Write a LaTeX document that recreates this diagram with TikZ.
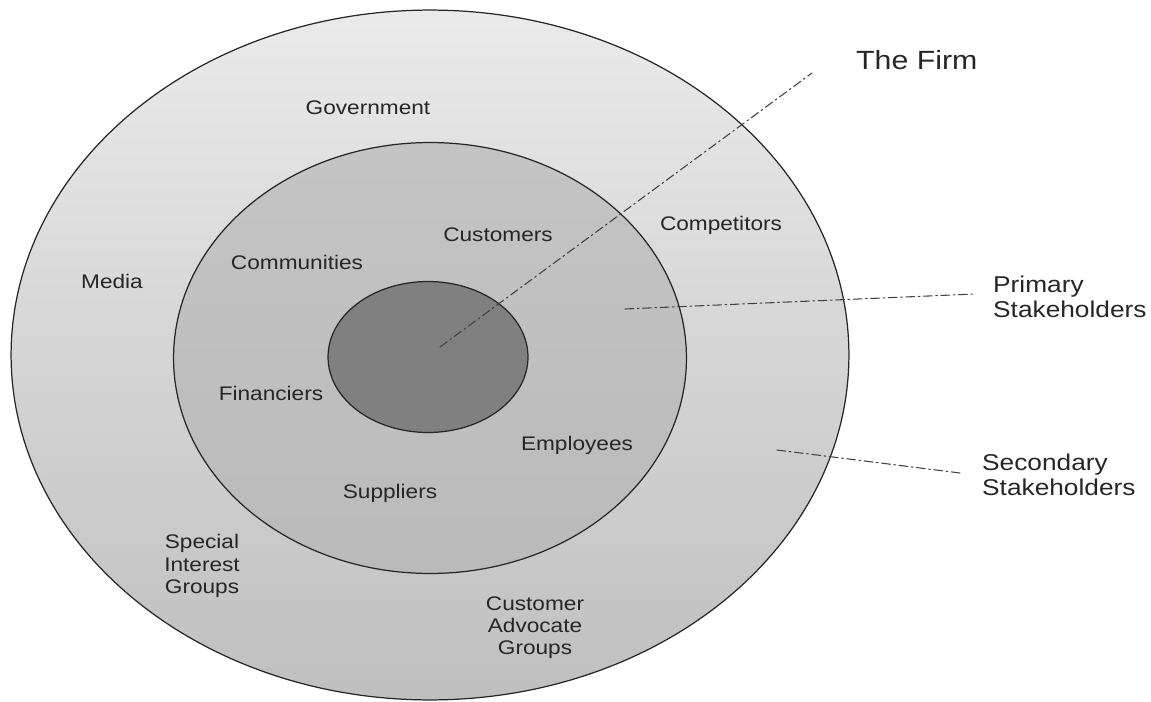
\documentclass[tikz,border=0pt]{standalone}
\usepackage{fontspec}
\setmainfont{Liberation Sans}[FakeStretch=1.15]
\usetikzlibrary{shapes.geometric}

\begin{document}
\begin{tikzpicture}[x=0.02cm,y=-0.02cm,line cap=round,line join=round,
  ring/.style={ellipse,draw=black!85,line width=0.7pt,inner sep=0pt},
  group/.style={font=\fontsize{11.2}{12.6}\selectfont,text=black!85,align=center},
  side/.style={font=\fontsize{13}{14.6}\selectfont,text=black!85,align=left,anchor=west},
  leader/.style={draw=black!75,line width=0.6pt,dash pattern=on 5pt off 2pt on 1pt off 2pt}]

  \useasboundingbox (0,0) rectangle (1151,702);

  %-------------------------
  % Anillos
  %-------------------------
  \node[ring,minimum width=16.76cm,minimum height=13.8cm,
        top color=black!8,bottom color=black!25] (outer) at (430,355) {};
  \node[ring,minimum width=10.26cm,minimum height=8.62cm,
        top color=black!23,bottom color=black!27] (middle) at (430,358) {};
  \node[ring,minimum width=4cm,minimum height=3.02cm,
        fill=black!50] (core) at (428,357) {};

  %-------------------------
  % Grupos secundarios
  %-------------------------
  \node[group] (government)  at (368,108) {Government};
  \node[group] (media)       at (112,281) {Media};
  \node[group] (competitors) at (721,225) {Competitors};
  \node[group] (special)     at (202,566) {Special\\Interest\\Groups};
  \node[group] (advocates)   at (535,628) {Customer\\Advocate\\Groups};

  %-------------------------
  % Grupos primarios
  %-------------------------
  \node[group] (customers)   at (498,235) {Customers};
  \node[group] (communities) at (297,262) {Communities};
  \node[group] (financiers)  at (271,393) {Financiers};
  \node[group] (employees)   at (577,445) {Employees};
  \node[group] (suppliers)   at (390,493) {Suppliers};

  %-------------------------
  % Etiquetas laterales
  %-------------------------
  \node[side,font=\fontsize{15}{17}\selectfont] (firm) at (850,60) {The Firm};
  \node[side] (primary)   at (987,297) {Primary\\Stakeholders};
  \node[side] (secondary) at (976,475) {Secondary\\Stakeholders};

  % lineas guia
  \coordinate (firm tip)       at (440,347);
  \coordinate (firm end)       at (812,73);
  \coordinate (primary tip)    at (625,309);
  \coordinate (primary end)    at (975,294);
  \coordinate (secondary tip)  at (777,450);
  \coordinate (secondary end)  at (960,473);

  \draw[leader] (firm tip) -- (firm end);
  \draw[leader] (primary tip) -- (primary end);
  \draw[leader] (secondary tip) -- (secondary end);

\end{tikzpicture}
\end{document}
